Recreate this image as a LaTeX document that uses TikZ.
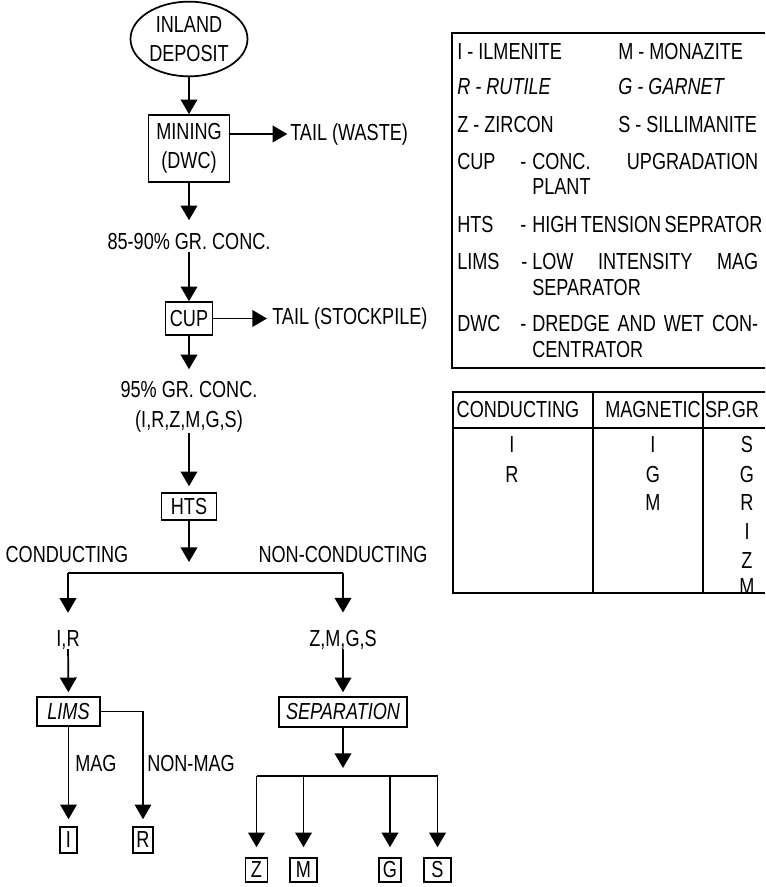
\documentclass[tikz,border=0pt]{standalone}
\usepackage{fontspec}
\setmainfont{Liberation Sans}[FakeStretch=0.78]
\usetikzlibrary{arrows.meta,shapes.geometric}
\newcommand\figsz{\fontsize{17.4}{21.75}\selectfont}
\begin{document}
\begin{tikzpicture}[x=0.75pt,y=-0.75pt,
  every node/.style={font=\figsz, inner sep=0pt, text=black},
  ln/.style={line width=1.3pt},
  arr/.style={ln, -{Triangle[width=12.5pt,length=11pt]}},
  thinarr/.style={line width=0.8pt, -{Triangle[width=12.5pt,length=11pt]}},
  boxn/.style={draw, line width=1.2pt},
  lbl/.style={anchor=base west},
  itl/.style={font=\figsz\itshape},
]
\useasboundingbox (0,0) rectangle (765,887);
\fill[white] (0,0) rectangle (765,887);

% ---- main flow ----
\node[draw, ellipse, ln, minimum width=87.75pt, minimum height=56pt, align=center] (dep) at (189,39) {INLAND\\DEPOSIT};
\node[boxn, minimum width=60.75pt, minimum height=50.25pt, align=center] (mining) at (189,148.5) {MINING\\(DWC)};
\node[anchor=west] (tailw) at (290,134) {TAIL (WASTE)};
\node[anchor=base] (c1) at (189,250) {85-90\% GR. CONC.};
\node[boxn, minimum width=35.25pt, minimum height=24.75pt] (cup) at (189,318.5) {CUP};
\node[anchor=west] (tails) at (272,318.5) {TAIL (STOCKPILE)};
\node[align=center, font=\fontsize{17.4}{22.5}\selectfont] (c2) at (189,407) {95\% GR. CONC.\\(I,R,Z,M,G,S)};
\node[boxn, minimum width=41.25pt, minimum height=20.25pt] (hts) at (189,506.5) {HTS};
\coordinate (split) at (189,562);
\node (cond) at (67,555) {CONDUCTING};
\node (ncond) at (343,555) {NON-CONDUCTING};
\coordinate (jl) at (68,573);
\coordinate (jr) at (343,573);
\node[anchor=base] (ir) at (68,646) {I,R};
\node[anchor=base] (zmgs) at (343,646) {Z,M,G,S};
\node[boxn, itl, minimum width=47.25pt, minimum height=21.75pt] (lims) at (68.5,711.5) {LIMS};
\node[boxn, itl, minimum width=96pt, minimum height=22.5pt] (sep) at (343,712) {SEPARATION};
\node[boxn, minimum width=12.75pt, minimum height=19.5pt] (bi) at (68.5,840) {I};
\node[boxn, minimum width=15pt, minimum height=19.5pt] (br) at (143,840) {R};
\node[lbl] (mag) at (75,771) {MAG};
\node[lbl] (nmag) at (147,771) {NON-MAG};
\coordinate (septip) at (343,768);
\coordinate (sbar) at (343,776);
\node[boxn, minimum width=16.5pt, minimum height=18pt] (bz) at (256.5,870) {Z};
\node[boxn, minimum width=20.25pt, minimum height=18pt] (bm) at (303.5,870) {M};
\node[boxn, minimum width=16.5pt, minimum height=18pt] (bg) at (390,870) {G};
\node[boxn, minimum width=20.25pt, minimum height=18pt] (bs) at (437.5,870) {S};

% ---- connectors ----
\draw[arr] (dep) -- (mining);
\draw[arr, shorten >=2pt] (tailw.west -| mining.east) -- (tailw.west);
\draw[arr, shorten >=10pt] (mining) -- (c1);
\draw[arr, shorten <=1.5pt] (c1) -- (cup);
\draw[arr, shorten >=3.75pt] (cup.east) -- (tails.west);
\draw[arr, shorten >=9pt] (cup) -- (c2);
\draw[arr, shorten >=4.5pt] (c2) -- (hts);
\draw[arr] (hts) -- (split);
\draw[ln] (jl) -- (jr);
\draw[arr, shorten >=12.75pt] (jl) -- (ir);
\draw[arr, shorten >=12.75pt] (jr) -- (zmgs);
\draw[arr, shorten >=3pt] (ir) -- (lims);
\draw[arr, shorten >=3pt] (zmgs) -- (sep);
\draw[thinarr, shorten >=5.25pt] (lims) -- (bi);
\draw[thinarr, shorten >=5.25pt] (lims.east) -| (br.north);
\draw[arr] (sep) -- (septip);
\draw[ln] (bz.north |- sbar) -- (bs.north |- sbar);
\foreach \b in {bz,bm,bg,bs} \draw[arr, shorten >=7.5pt] (\b.north |- sbar) -- (\b.north);

% ---- legend ----
\node[lbl] (li) at (457,60) {I - ILMENITE};
\node[lbl] (lm) at (618,60) {M - MONAZITE};
\node[lbl, itl] (lr) at (457,95) {R - RUTILE};
\node[lbl, itl] (lg) at (618,95) {G - GARNET};
\node[lbl] (lz) at (457,133) {Z - ZIRCON};
\node[lbl] (ls) at (618,133) {S - SILLIMANITE};
\node[lbl] (lcup) at (457,170) {CUP};
\node[lbl] (lcupd) at (520,170) {-};
\node[lbl] (lcupt) at (532,170) {\makebox[169.5pt][s]{CONC. UPGRADATION}};
\node[lbl] (lcupt2) at (532,195) {PLANT};
\node[lbl] (lhts) at (457,233) {HTS};
\node[lbl] (lhtsd) at (520,233) {-};
\node[lbl] (lhtst) at (532,233) {\makebox[169.5pt][s]{HIGH TENSION SEPRATOR}};
\node[lbl] (llims) at (457,270) {LIMS};
\node[lbl] (llimsd) at (521,270) {-};
\node[lbl] (llimst) at (532,270) {\makebox[169.5pt][s]{LOW INTENSITY MAG}};
\node[lbl] (llimst2) at (532,296) {SEPARATOR};
\node[lbl] (ldwc) at (457,331) {DWC};
\node[lbl] (ldwcd) at (520,331) {-};
\node[lbl] (ldwct) at (532,331) {\makebox[169.5pt][s]{DREDGE AND WET CON-}};
\node[lbl] (ldwct2) at (532,358) {CENTRATOR};
\draw[ln] (765,33) -- (452,33) -- (452,368) -- (765,368);

% ---- property table ----
\node (hc) at (518,410) {CONDUCTING};
\node (hm) at (653,410) {MAGNETIC};
\node (hs) at (732,410) {SP.GR};
\foreach \t/\y [count=\k] in {I/445,R/475} \node (ta\k) at (512,\y) {\t};
\foreach \t/\y [count=\k] in {I/445,G/475,M/503} \node (tb\k) at (653,\y) {\t};
\foreach \t/\y [count=\k] in {S/445,G/475,R/503,I/532,Z/561,M/587} \node (tc\k) at (747,\y) {\t};
\draw[ln] (765,392) -- (453,392) -- (453,593) -- (765,593);
\draw[ln] (453,428) -- (765,428);
\draw[ln] (593,392) -- (593,593);
\draw[ln] (703,392) -- (703,593);
\end{tikzpicture}
\end{document}
